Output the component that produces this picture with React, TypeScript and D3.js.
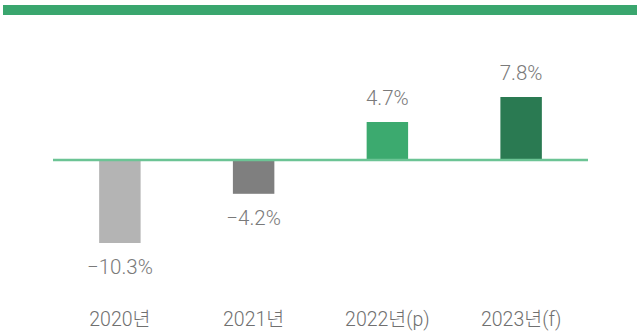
import React from "react";
import * as d3 from "d3";

const categories = ["2020년", "2021년", "2022년(p)", "2023년(f)"];
const values = [-10.3, -4.2, 4.7, 7.8];
const labels = ["−10.3%", "−4.2%", "4.7%", "7.8%"];
const colors = ["#b4b4b4", "#7f7f7f", "#3caa6f", "#2a7a52"];

export default function App() {
  const W = 640, H = 334;
  const x = d3.scaleBand<string>().domain(categories).range([53, 588]).paddingInner(0.69).paddingOuter(0.345);
  const y = d3.scaleLinear().domain([-10.3, 7.8]).range([243, 97]);
  const font = "Roboto, 'Noto Sans CJK KR', sans-serif";
  return (
    <svg width={W} height={H} style={{ position: "absolute", left: 0, top: 0 }}>
      <rect x={3} y={5} width={634} height={10} fill="#3aa66e" />
      {values.map((v, i) => {
        const c = categories[i];
        const bx = x(c)!;
        const y0 = y(0), y1 = y(v);
        const cx = bx + x.bandwidth() / 2;
        return (
          <g key={c}>
            <rect x={bx} y={Math.min(y0, y1)} width={x.bandwidth()} height={Math.abs(y1 - y0)} fill={colors[i]} />
            <text x={cx} y={v >= 0 ? y1 - 17 : y1 + 31} textAnchor="middle" fontFamily={font} fontWeight={300} fontSize={20.5} fill="#7a7a7a">{labels[i]}</text>
            <text x={cx} y={326} textAnchor="middle" fontFamily={font} fontWeight={300} fontSize={19.5} fill="#707070">{c}</text>
          </g>
        );
      })}
      <line x1={53} x2={588} y1={y(0)} y2={y(0)} stroke="#6cc495" strokeWidth={2.5} />
    </svg>
  );
}
